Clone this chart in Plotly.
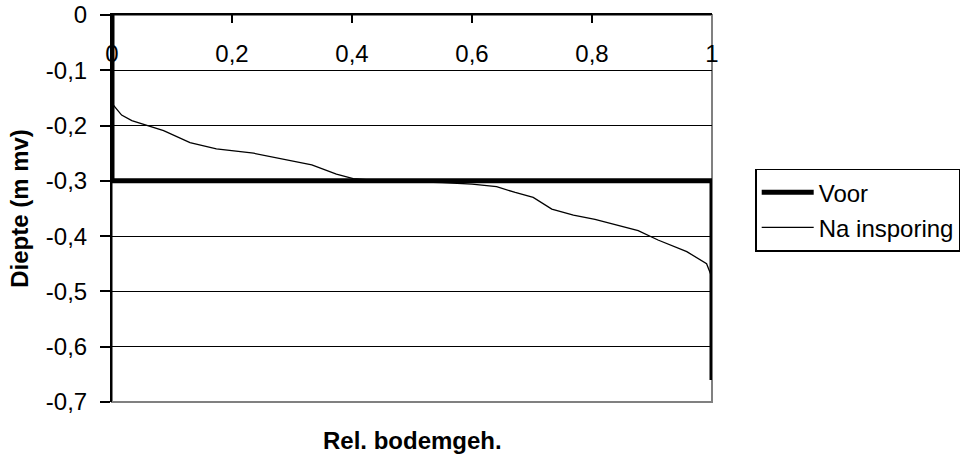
import plotly.graph_objects as go

# Data
voor_x = [0, 0, 1, 1]
voor_y = [0, -0.3, -0.3, -0.66]

na_x = [0.0, 0.016, 0.033, 0.055, 0.086, 0.13, 0.174, 0.236, 0.28, 0.333, 0.374, 0.402,
        0.45, 0.55, 0.60, 0.641, 0.672, 0.702, 0.733, 0.769, 0.805, 0.841, 0.877, 0.91,
        0.958, 0.991, 0.997, 1.0]
na_y = [-0.16, -0.181, -0.191, -0.199, -0.209, -0.231, -0.242, -0.250, -0.26, -0.271, -0.288, -0.296,
        -0.300, -0.303, -0.306, -0.3105, -0.321, -0.33, -0.351, -0.362, -0.3695, -0.38, -0.39, -0.407,
        -0.428, -0.45, -0.467, -0.475]

x_tickvals = [0, 0.2, 0.4, 0.6, 0.8, 1]
x_ticktext = ["0", "0,2", "0,4", "0,6", "0,8", "1"]
y_tickvals = [0, -0.1, -0.2, -0.3, -0.4, -0.5, -0.6, -0.7]
y_ticktext = ["0", "-0,1", "-0,2", "-0,3", "-0,4", "-0,5", "-0,6", "-0,7"]

FONT = "Arial, 'Liberation Sans', sans-serif"
FS = 24

fig = go.Figure()
fig.add_trace(go.Scatter(x=voor_x, y=voor_y, mode="lines", name="Voor",
                         line=dict(color="black", width=5), cliponaxis=False,
                         legendgroup="a"))
fig.add_trace(go.Scatter(x=na_x, y=na_y, mode="lines", name="Na insporing",
                         xaxis="x2", line=dict(color="black", width=1.3), cliponaxis=False,
                         legendgroup="b"))

fig.update_layout(
    width=963, height=459,
    margin=dict(l=112, r=251, t=15, b=57, autoexpand=False),
    paper_bgcolor="white", plot_bgcolor="white",
    font=dict(family=FONT, size=FS, color="black"),
    showlegend=True,
    legend=dict(x=1.072, y=0.603, xanchor="left", yanchor="top",
                bordercolor="black", borderwidth=1.5, bgcolor="white",
                font=dict(size=FS), tracegroupgap=1, itemwidth=52),
    xaxis=dict(range=[0, 1], side="top", showline=True, linecolor="black", linewidth=2,
               ticks="inside", ticklen=8, tickwidth=2, tickcolor="black",
               tickvals=x_tickvals, showticklabels=False, showgrid=False, zeroline=False),
    xaxis2=dict(range=[0, 1], overlaying="x", anchor="free", position=0.943, side="bottom",
                showline=False, ticks="", tickvals=x_tickvals, ticktext=x_ticktext,
                showgrid=False, zeroline=False, tickfont=dict(size=FS),
                ticklabeloverflow="allow"),
    yaxis=dict(range=[-0.7, 0], showline=True, linecolor="black", linewidth=2,
               ticks="outside", ticklen=10, tickwidth=2, tickcolor="black",
               tickvals=y_tickvals, ticktext=y_ticktext, showgrid=True,
               gridcolor="black", gridwidth=1, zeroline=False, ticklabelstandoff=8,
               tickfont=dict(size=FS), ticklabeloverflow="allow",
               title=dict(text="<b>Diepte (m mv)</b>", standoff=10, font=dict(size=FS)),
               automargin=False),
    shapes=[dict(type="rect", xref="paper", yref="paper", x0=0, x1=1, y0=0, y1=1,
                 line=dict(color="#808080", width=2), layer="below")],
    annotations=[dict(text="<b>Rel. bodemgeh.</b>", xref="paper", yref="paper",
                      x=0.5, y=0, yshift=-38, yanchor="middle", showarrow=False,
                      font=dict(size=FS))],
)

fig.write_html("out.html", config={"displayModeBar": False},
               post_script="document.body.style.margin='0px';document.body.style.overflow='hidden';")
